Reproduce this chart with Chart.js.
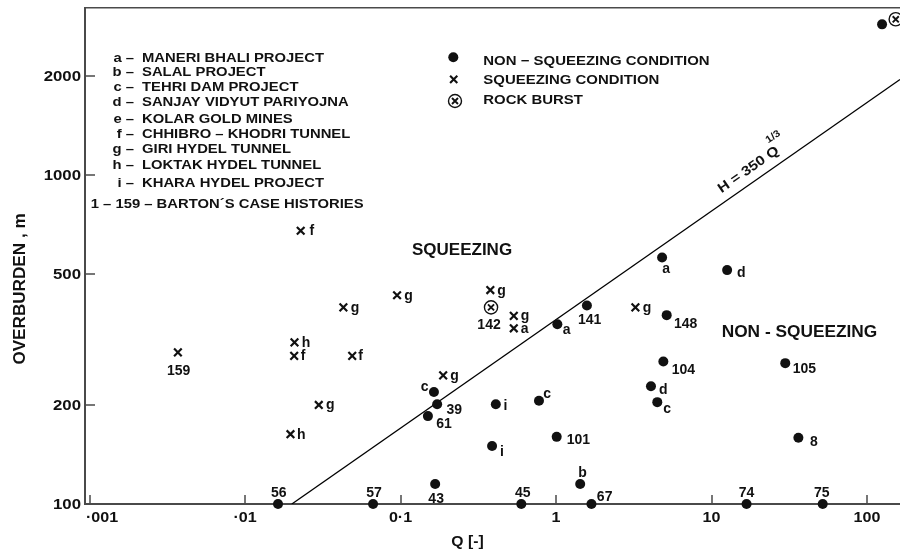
<!DOCTYPE html>
<html lang="en">
<head>
  <meta charset="UTF-8" />
  <title>Overburden vs Q</title>
  <script src="https://cdn.jsdelivr.net/npm/chart.js"></script>
  <style>
    html, body { margin: 0; padding: 0; background: #fff; overflow: hidden; }
    #wrap { width: 900px; height: 552px; overflow: hidden; }
  </style>
</head>
<body>
  <div id="wrap"><canvas id="chart" width="910" height="552"></canvas></div>

  <script>
    // ---- values ----
    // non-squeezing cases (filled dots)
    const nonSqQ = [0.0163, 0.0666, 0.167, 0.164, 0.172, 0.150, 0.410, 0.388, 0.777, 1.02, 1.58, 1.01, 1.43,
                    0.598, 1.69, 5.15, 4.90, 4.08, 4.48, 4.81, 12.6, 16.8, 29.8, 36.2, 51.9, 125];
    const nonSqH = [100, 100, 115, 219, 201, 185, 201, 150, 206, 352, 401, 160, 115,
                    100, 100, 375, 271, 228, 204, 561, 514, 100, 268, 159, 100, 2870];
    const nonSqLabels = ['56', '57', '43', 'c', '39', '61', 'i', 'i', 'c', 'a', '141', '101', 'b',
                         '45', '67', '148', '104', 'd', 'c', 'a', 'd', '74', '105', '8', '75', ''];

    // squeezing cases (x)
    const sqQ = [0.0037, 0.0208, 0.0207, 0.0489, 0.0429, 0.095, 0.0298, 0.0196, 0.0228, 0.188, 0.378, 0.535, 0.535, 3.24];
    const sqH = [289, 310, 282, 282, 396, 431, 200, 163, 677, 246, 447, 373, 342, 396];
    const sqLabels = ['159', 'h', 'f', 'f', 'g', 'g', 'g', 'h', 'f', 'g', 'g', 'g', 'a', 'g'];

    // rock burst cases
    const burstQ = [0.382, 153];
    const burstH = [396, 2974];
    const burstLabels = ['142', ''];

    // boundary H = 350 Q^1/3 (end points as drawn)
    const lineQ = [0.02, 163];
    const lineH = [100, 1950];

    // axes
    const xTicks = [0.001, 0.01, 0.1, 1, 10, 100];
    const xTickLabels = ['·001', '·01', '0·1', '1', '10', '100'];
    const yTicks = [100, 200, 500, 1000, 2000];
    const yTickLabels = ['100', '200', '500', '1000', '2000'];

    const projectKeys = ['a', 'b', 'c', 'd', 'e', 'f', 'g', 'h', 'i'];
    const projectNames = ['MANERI BHALI PROJECT', 'SALAL PROJECT', 'TEHRI DAM PROJECT', 'SANJAY VIDYUT PARIYOJNA',
                          'KOLAR GOLD MINES', 'CHHIBRO – KHODRI TUNNEL', 'GIRI HYDEL TUNNEL',
                          'LOKTAK HYDEL TUNNEL', 'KHARA HYDEL PROJECT'];

    // ---- label placement (pixels relative to the marker) ----
    const nonSqLabelPos = [[0.7, -7.3, 'center'], [1, -7.3, 'center'], [1, 19, 'center'], [-13.3, -1.3, 'left'],
      [9.4, 9.3, 'left'], [8.3, 11.7, 'left'], [7.6, 6, 'left'], [8, 10, 'left'], [4.3, -3, 'left'],
      [5.4, 10, 'left'], [2.8, 18.3, 'center'], [10, 7, 'left'], [2.3, -7.3, 'center'], [1.4, -7.3, 'center'],
      [5.4, -3, 'left'], [7.3, 13.3, 'left'], [8.4, 12.3, 'left'], [8, 8, 'left'], [6, 10.7, 'left'],
      [4, 15, 'center'], [10, 7.3, 'left'], [0, -7.3, 'center'], [7.4, 10.3, 'left'], [11.7, 8, 'left'],
      [-1, -7.3, 'center'], [0, 0, 'left']];
    const sqLabelPos = [[0.7, 23, 'center'], [7.2, 4.5, 'left'], [6.7, 4.5, 'left'], [6.1, 4.5, 'left'],
      [7.4, 4.5, 'left'], [7.3, 4.5, 'left'], [7.2, 4.5, 'left'], [6.4, 4.5, 'left'], [8.8, 4.5, 'left'],
      [7, 4.5, 'left'], [7, 4.5, 'left'], [7, 4.5, 'left'], [7, 4.5, 'left'], [7.4, 4.5, 'left']];
    const burstLabelPos = [[-2, 22, 'center'], [0, 0, 'left']];

    const FONT = '"Liberation Sans", Arial, Helvetica, sans-serif';
    const INK = '#111';
    const AXIS = '#4a4a4a';

    function pts(xs, ys) {
      return xs.map((x, i) => ({ x: x, y: ys[i] }));
    }

    // draw bold text, optionally stretched horizontally (sx) and rotated
    function drawText(ctx, s, x, y, size, opt) {
      opt = opt || {};
      ctx.save();
      ctx.font = 'bold ' + size + 'px ' + FONT;
      ctx.fillStyle = INK;
      ctx.textAlign = opt.align || 'left';
      ctx.textBaseline = 'alphabetic';
      ctx.translate(x, y);
      if (opt.rot) ctx.rotate(opt.rot);
      ctx.scale(opt.sx || 1, 1);
      ctx.fillText(s, 0, 0);
      ctx.restore();
    }

    function drawCross(ctx, x, y, h, w) {
      ctx.save();
      ctx.strokeStyle = INK;
      ctx.lineWidth = w;
      ctx.beginPath();
      ctx.moveTo(x - h, y - h); ctx.lineTo(x + h, y + h);
      ctx.moveTo(x - h, y + h); ctx.lineTo(x + h, y - h);
      ctx.stroke();
      ctx.restore();
    }

    const annotate = {
      id: 'annotate',
      afterDatasetsDraw(chart) {
        const ctx = chart.ctx;
        const xs = chart.scales.x, ys = chart.scales.y;
        const area = chart.chartArea;

        // inward tick marks
        ctx.save();
        ctx.strokeStyle = AXIS;
        ctx.lineWidth = 1.5;
        ctx.beginPath();
        xTicks.forEach(v => {
          const px = Math.round(xs.getPixelForValue(v));
          if (px > area.left + 3) { ctx.moveTo(px, area.bottom); ctx.lineTo(px, area.bottom - 9); }
        });
        yTicks.forEach(v => {
          const py = Math.round(ys.getPixelForValue(v));
          if (py < area.bottom - 3) { ctx.moveTo(area.left, py); ctx.lineTo(area.left + 10, py); }
        });
        ctx.stroke();
        ctx.restore();

        // tick labels
        xTicks.forEach((v, i) => {
          const px = xs.getPixelForValue(v);
          if (i === 0) drawText(ctx, xTickLabels[i], area.left + 1, area.bottom + 17.5, 14, { sx: 1.15 });
          else drawText(ctx, xTickLabels[i], px, area.bottom + 17.5, 14, { sx: 1.15, align: 'center' });
        });
        yTicks.forEach((v, i) => {
          const py = ys.getPixelForValue(v);
          drawText(ctx, yTickLabels[i], area.left - 4, py + 5, 14, { sx: 1.2, align: 'right' });
        });

        // axis titles
        drawText(ctx, 'OVERBURDEN , m', 25, 289, 16, { sx: 1.07, align: 'center', rot: -Math.PI / 2 });
        drawText(ctx, 'Q [-]', 467.5, 546, 15, { sx: 1.05, align: 'center' });

        // project key (top left)
        const keyBase = [62, 76, 91, 106, 122.7, 137.7, 152.7, 169, 186.7];
        projectKeys.forEach((k, i) => {
          drawText(ctx, k + ' –', 134, keyBase[i], 13, { sx: 1.14, align: 'right' });
          drawText(ctx, projectNames[i], 142, keyBase[i], 13, { sx: 1.14 });
        });
        drawText(ctx, '1 – 159 – BARTON´S CASE HISTORIES', 90.7, 208.3, 13, { sx: 1.14 });

        // symbol legend
        ctx.save();
        ctx.fillStyle = INK;
        ctx.beginPath(); ctx.arc(453.3, 57.3, 5, 0, Math.PI * 2); ctx.fill();
        ctx.restore();
        drawCross(ctx, 453.7, 79.3, 3.6, 2.1);
        ctx.save();
        ctx.strokeStyle = INK; ctx.lineWidth = 1.4;
        ctx.beginPath(); ctx.arc(455, 101, 6.5, 0, Math.PI * 2); ctx.stroke();
        ctx.restore();
        drawCross(ctx, 455, 101, 3, 1.9);
        drawText(ctx, 'NON − SQUEEZING CONDITION', 483.3, 65, 13, { sx: 1.15 });
        drawText(ctx, 'SQUEEZING CONDITION', 483.3, 84, 13, { sx: 1.15 });
        drawText(ctx, 'ROCK BURST', 483.3, 104.3, 13, { sx: 1.15 });

        // region names
        drawText(ctx, 'SQUEEZING', 412, 255, 17);
        drawText(ctx, 'NON - SQUEEZING', 721.7, 337, 17.3);

        // point labels
        const groups = [[0, nonSqLabels, nonSqLabelPos], [1, sqLabels, sqLabelPos], [2, burstLabels, burstLabelPos]];
        groups.forEach(([di, labels, pos]) => {
          const meta = chart.getDatasetMeta(di);
          meta.data.forEach((el, i) => {
            if (!labels[i]) return;
            const p = pos[i];
            drawText(ctx, labels[i], el.x + p[0], el.y + p[1], 14, { align: p[2] });
          });
        });

        // boundary line label
        const x0 = xs.getPixelForValue(lineQ[0]), y0 = ys.getPixelForValue(lineH[0]);
        const x1 = xs.getPixelForValue(lineQ[1]), y1 = ys.getPixelForValue(lineH[1]);
        const ang = Math.atan2(y1 - y0, x1 - x0);
        const fx = xs.getPixelForValue(12.5);
        const fy = y0 + (fx - x0) / (x1 - x0) * (y1 - y0);
        const sxp = fx + 9 * Math.sin(ang), syp = fy - 9 * Math.cos(ang);
        drawText(ctx, 'H = 350 Q', sxp, syp, 13.5, { sx: 1.15, rot: ang });
        const ux = Math.cos(ang), uy = Math.sin(ang);
        const nx = Math.sin(ang), ny = -Math.cos(ang);
        drawText(ctx, '1/3', sxp + 67 * ux + 14 * nx, syp + 67 * uy + 14 * ny, 10, { sx: 1.1, rot: ang });
      }
    };

    const zeroHeight = s => { s.height = 0; };
    const zeroWidth = s => { s.width = 0; };

    const ctx = document.getElementById('chart').getContext('2d');
    const chart = new Chart(ctx, {
      type: 'scatter',
      data: {
        datasets: [
          {
            label: 'Non-squeezing',
            data: pts(nonSqQ, nonSqH),
            pointStyle: 'circle',
            pointRadius: 5,
            backgroundColor: INK,
            borderWidth: 0,
            clip: false
          },
          {
            label: 'Squeezing',
            data: pts(sqQ, sqH),
            pointStyle: 'crossRot',
            pointRadius: 5.4,
            borderColor: INK,
            borderWidth: 2.2,
            clip: false
          },
          {
            label: 'Rock burst x',
            data: pts(burstQ, burstH),
            pointStyle: 'crossRot',
            pointRadius: 4.3,
            borderColor: INK,
            borderWidth: 1.9,
            clip: false
          },
          {
            label: 'Rock burst',
            data: pts(burstQ, burstH),
            pointStyle: 'circle',
            pointRadius: 6.6,
            backgroundColor: '#fff',
            borderColor: INK,
            borderWidth: 1.4,
            clip: false
          },
          {
            label: 'H = 350 Q^1/3',
            data: pts(lineQ, lineH),
            showLine: true,
            borderColor: '#000',
            borderWidth: 1.3,
            pointRadius: 0
          }
        ]
      },
      options: {
        responsive: false,
        animation: false,
        devicePixelRatio: 1,
        layout: { padding: { left: 85, top: 8, right: 10, bottom: 48 } },
        plugins: { legend: { display: false }, tooltip: { enabled: false } },
        scales: {
          x: {
            type: 'logarithmic',
            position: 'bottom',
            min: 0.000935,
            max: 163,
            grid: { display: false },
            ticks: { display: false },
            border: { display: true, color: AXIS, width: 2 },
            afterFit: zeroHeight
          },
          xTop: {
            type: 'logarithmic',
            axis: 'x',
            position: 'top',
            min: 0.000935,
            max: 163,
            grid: { display: false },
            ticks: { display: false },
            border: { display: true, color: AXIS, width: 1.5 },
            afterFit: zeroHeight
          },
          y: {
            type: 'logarithmic',
            position: 'left',
            min: 100,
            max: 3218,
            grid: { display: false },
            ticks: { display: false },
            border: { display: true, color: AXIS, width: 2 },
            afterFit: zeroWidth
          }
        }
      },
      plugins: [annotate]
    });
  </script>
</body>
</html>
